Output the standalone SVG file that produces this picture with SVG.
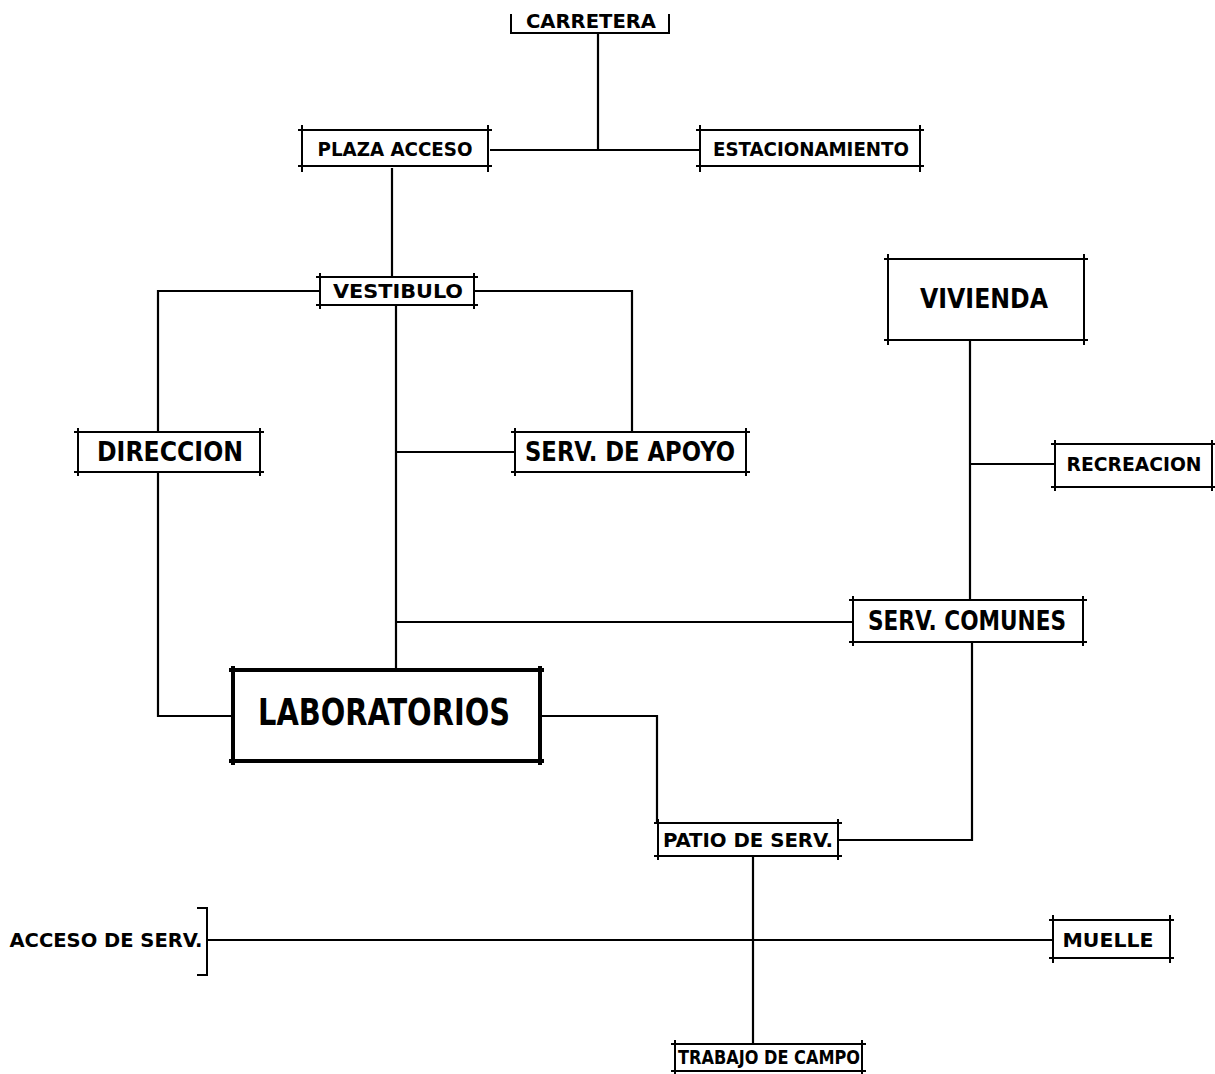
<svg xmlns="http://www.w3.org/2000/svg" width="1215" height="1074" viewBox="0 0 1215 1074">
<style>
.bx{fill:none;stroke:#000;stroke-width:2}
.bxt{fill:none;stroke:#000;stroke-width:4}
.cn{fill:none;stroke:#000;stroke-width:2.2}
text{font-family:"DejaVu Sans Condensed","DejaVu Sans","Liberation Sans",sans-serif;font-weight:bold;fill:#000;text-anchor:middle;dominant-baseline:central}
.s{font-size:20px}
.m{font-size:26px}
.l{font-size:37px}
</style>
<rect width="1215" height="1074" fill="#fff"/>
<g id="connectors">
<path class="cn" d="M598 33V150M490 150H700"/>
<path class="cn" d="M392 168V276"/>
<path class="cn" d="M320 291H158V432M474 291H632V432"/>
<path class="cn" d="M396 305V669M396 452H515M396 622H853"/>
<path class="cn" d="M158 472V716H233"/>
<path class="cn" d="M540 716H657V822"/>
<path class="cn" d="M970 340V600M970 464H1055"/>
<path class="cn" d="M972 642V840H838"/>
<path class="cn" d="M753 856V1044"/>
<path class="cn" d="M207 940H1053"/>
</g>
<g id="carretera">
<path class="bx" d="M511 14V33H669V14"/>
<text class="s" x="591" y="21" textLength="130" lengthAdjust="spacingAndGlyphs">CARRETERA</text>
</g>
<g id="plaza-acceso">
<path class="bx" d="M298 130H492M298 166H492M302 125V172M488 125V172"/>
<text class="s" x="395" y="149" textLength="155" lengthAdjust="spacingAndGlyphs">PLAZA ACCESO</text>
</g>
<g id="estacionamiento">
<path class="bx" d="M696 130H924M696 166H924M700 125V172M920 125V172"/>
<text class="s" x="811" y="149" textLength="196" lengthAdjust="spacingAndGlyphs">ESTACIONAMIENTO</text>
</g>
<g id="vestibulo">
<path class="bx" d="M316 277H478M316 305H478M320 273V309M474 273V309"/>
<text class="s" x="398" y="291" textLength="130" lengthAdjust="spacingAndGlyphs">VESTIBULO</text>
</g>
<g id="direccion">
<path class="bx" d="M74 432H264M74 472H264M78 428V476M260 428V476"/>
<text class="m" x="170" y="452" textLength="146" lengthAdjust="spacingAndGlyphs">DIRECCION</text>
</g>
<g id="serv-apoyo">
<path class="bx" d="M511 432H750M511 472H750M515 428V476M746 428V476"/>
<text class="m" x="630" y="452" textLength="210" lengthAdjust="spacingAndGlyphs">SERV. DE APOYO</text>
</g>
<g id="vivienda">
<path class="bx" d="M884 259H1088M884 340H1088M888 254V345M1084 254V345"/>
<text class="m" x="984" y="299" textLength="128" lengthAdjust="spacingAndGlyphs">VIVIENDA</text>
</g>
<g id="recreacion">
<path class="bx" d="M1051 444H1215M1051 487H1215M1055 440V491M1212 440V491"/>
<text class="s" x="1134" y="464" textLength="135" lengthAdjust="spacingAndGlyphs">RECREACION</text>
</g>
<g id="serv-comunes">
<path class="bx" d="M849 600H1087M849 642H1087M853 596V646M1083 596V646"/>
<text class="m" x="967" y="621" textLength="198" lengthAdjust="spacingAndGlyphs">SERV. COMUNES</text>
</g>
<g id="laboratorios">
<path class="bxt" d="M229 670H544M229 761H544M233 666V765M540 666V765"/>
<text class="l" x="384" y="712" textLength="252" lengthAdjust="spacingAndGlyphs">LABORATORIOS</text>
</g>
<g id="patio-serv">
<path class="bx" d="M654 823H842M654 856H842M658 819V860M838 819V860"/>
<text class="s" x="748" y="840" textLength="170" lengthAdjust="spacingAndGlyphs">PATIO DE SERV.</text>
</g>
<g id="acceso-serv">
<path class="bx" d="M197 908H207V975H197"/>
<text class="s" x="106" y="940" textLength="193" lengthAdjust="spacingAndGlyphs">ACCESO DE SERV.</text>
</g>
<g id="muelle">
<path class="bx" d="M1049 920H1174M1049 958H1174M1053 915V963M1170 915V963"/>
<text class="s" x="1108" y="940" textLength="91" lengthAdjust="spacingAndGlyphs">MUELLE</text>
</g>
<g id="trabajo-campo">
<path class="bx" d="M671 1044H866M675 1040V1074M862 1040V1074M671 1071H866"/>
<text class="s" x="769" y="1057" textLength="182" lengthAdjust="spacingAndGlyphs">TRABAJO DE CAMPO</text>
</g>
</svg>
